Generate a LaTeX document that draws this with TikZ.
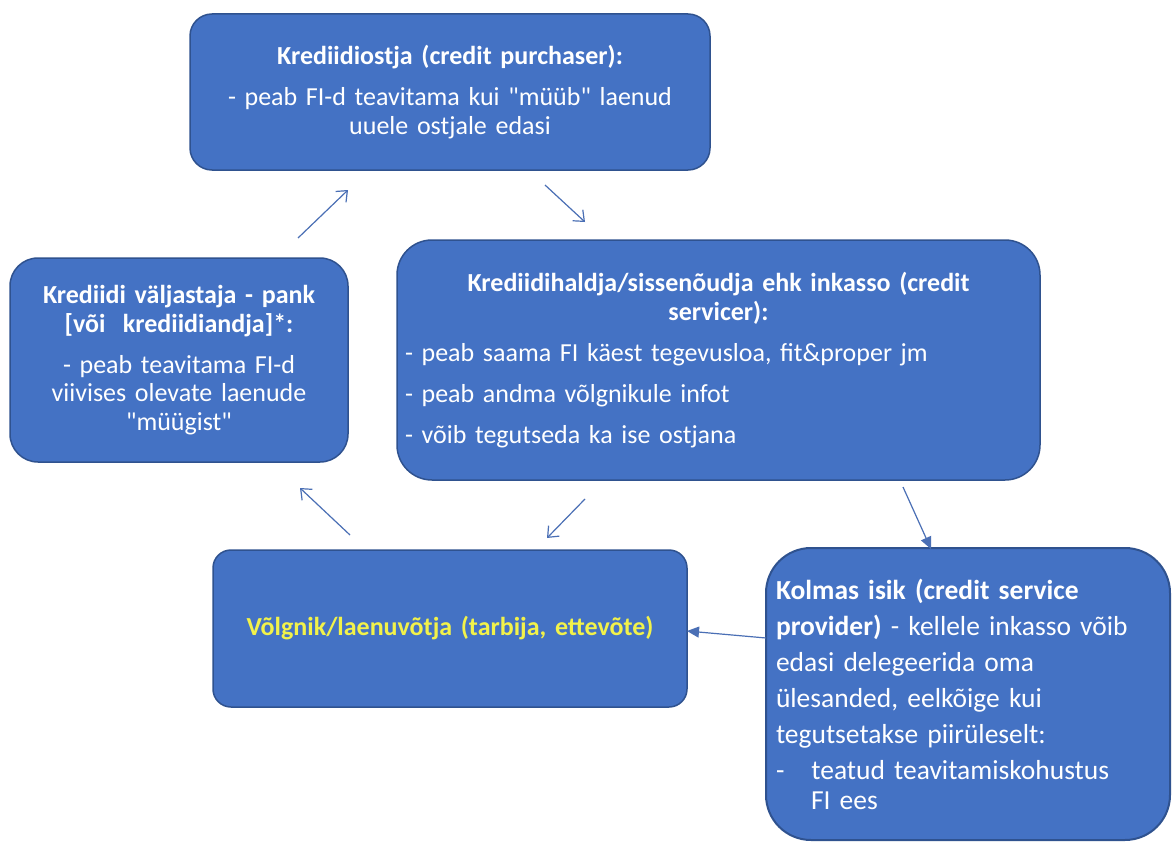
\documentclass[tikz,border=0pt]{standalone}
\usepackage{fontspec}
\setmainfont{Carlito}[Ligatures=TeXOff]
\usetikzlibrary{arrows.meta}
\definecolor{boxfill}{HTML}{4472C4}
\definecolor{boxline}{HTML}{2F528F}
\definecolor{arrowc}{HTML}{4A6FB5}
\definecolor{debtyellow}{HTML}{F2F24A}
\tikzset{
  box/.style={draw=boxline, line width=1.5pt, fill=boxfill, text=white, inner sep=0pt,
    font=\fontsize{26}{28.5}\selectfont},
  cyclearrow/.style={draw=arrowc, line width=1.2pt, -{Straight Barb[length=9pt,width=15pt,line width=1.2pt]}},
  solidarrow/.style={draw=arrowc, line width=1.2pt, -{Triangle[length=12pt,width=11pt]}}
}
\begin{document}
\begin{tikzpicture}[x=1pt,y=-1pt]
\useasboundingbox[fill=white] (0,0) rectangle (1176,843);

% Top box: credit purchaser
\node[box, rounded corners=22pt, minimum width=520pt, minimum height=156pt,
  text width=504pt, align=center] (A) at (450,92)
  {\textbf{Krediidiostja (credit purchaser):}\\[12.5pt]
   - peab FI-d teavitama kui "müüb" laenud\\
   uuele ostjale edasi};

% Right box: credit servicer
\node[box, rounded corners=35pt, minimum width=643pt, minimum height=240pt,
  text width=627pt, align=left] (B) at (718.5,360)
  {{\centering\bfseries Krediidihaldja/sissenõudja ehk inkasso (credit\\
    servicer):\par}\vspace{12.5pt}
   - peab saama FI käest tegevusloa, fit\&proper jm\\[12.5pt]
   - peab andma võlgnikule infot\\[12.5pt]
   - võib tegutseda ka ise ostjana};

% Left box: bank
\node[box, rounded corners=28pt, minimum width=338pt, minimum height=204pt,
  text width=326pt, align=center] (C) at (179,360)
  {\textbf{Krediidi väljastaja - pank}\\
   \textbf{[või\ \ krediidiandja]*:}\\[12.5pt]
   - peab teavitama FI-d\\
   viivises olevate laenude\\
   "müügist"};

% Debtor box
\node[box, rounded corners=18pt, minimum width=474pt, minimum height=157pt,
  text width=458pt, align=center, text=debtyellow] (D) at (450,628.5)
  {\textbf{Võlgnik/laenuvõtja (tarbija, ettevõte)}};

% Third party box
\node[box, rounded corners=45pt, minimum width=404pt, minimum height=292pt,
  text width=384pt, align=left, line width=2pt,
  font=\fontsize{27.5}{30}\selectfont] (E) at (968,694)
  {\textbf{Kolmas isik (credit service}\\[6pt]
   \textbf{provider)} - kellele inkasso võib\\[6pt]
   edasi delegeerida oma\\[6pt]
   ülesanded, eelkõige kui\\[6pt]
   tegutsetakse piirüleselt:\\[6pt]
   -\hspace{27pt}teatud teavitamiskohustus\\
   \hspace{35pt}FI ees};

% arrow end points
\coordinate (c1) at (298,238);
\coordinate (c2) at (348,190);
\coordinate (a1) at (545,185);
\coordinate (a2) at (585,222);
\coordinate (b1) at (585,499);
\coordinate (b2) at (547,538);
\coordinate (d1) at (350,535);
\coordinate (d2) at (300,488);
\coordinate (b3) at (903,487);
\coordinate (e1) at (931,549);
\coordinate (e2) at (766,638);
\coordinate (d3) at (687,631);

\draw[cyclearrow] (c1) -- (c2);
\draw[cyclearrow] (a1) -- (a2);
\draw[cyclearrow] (b1) -- (b2);
\draw[cyclearrow] (d1) -- (d2);
\draw[solidarrow] (b3) -- (e1);
\draw[solidarrow] (e2) -- (d3);
\end{tikzpicture}
\end{document}
